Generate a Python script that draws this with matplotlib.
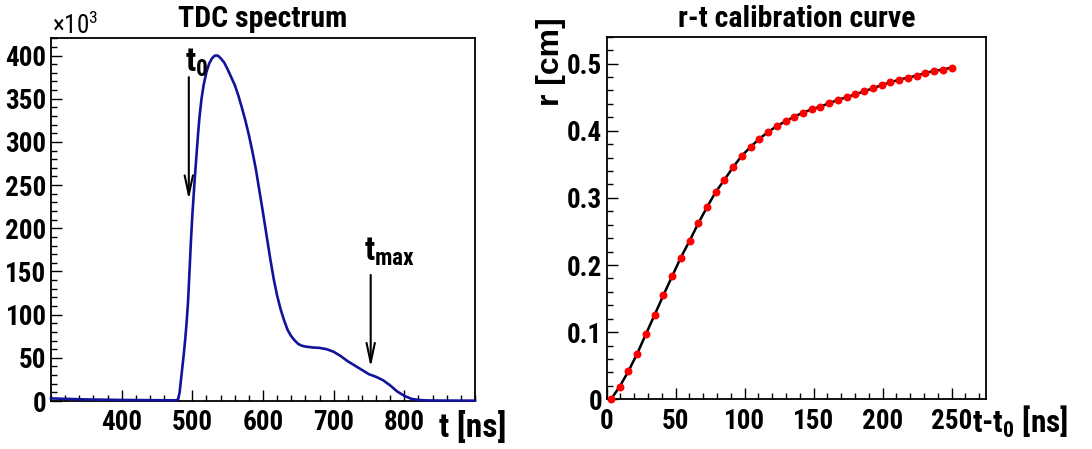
import matplotlib
matplotlib.use("Agg")
import matplotlib.pyplot as plt
from matplotlib.ticker import MultipleLocator, FixedLocator, FixedFormatter

# ---------------- data ----------------
tdc_time_ns = [300, 320, 350, 400, 450, 475, 478, 480, 482, 484, 486, 488, 490, 492, 494,
               496, 498, 500, 502, 504, 506, 508, 510, 513, 516, 520, 524, 528, 532, 536,
               540, 545, 550, 555, 560, 565, 570, 575, 580, 585, 590, 595, 600, 605, 610,
               615, 620, 625, 630, 635, 640, 645, 650, 655, 660, 670, 680, 690, 700, 710,
               720, 730, 740, 750, 760, 770, 780, 790, 800, 810, 820, 830, 850, 900]
tdc_counts_k = [3.0, 2.5, 1.8, 1.2, 0.9, 0.8, 1.0, 2.5, 10, 25, 40, 55, 72, 92, 116,
                150, 185, 215, 240, 264, 286, 308, 328, 350, 366, 381, 391, 397, 400, 400,
                397, 392, 384, 375, 366, 354, 340, 325, 308, 289, 268, 243, 218, 192, 166,
                142, 122, 106, 93, 82, 75, 70, 66, 64, 63, 62, 61.5, 60, 57, 52,
                46, 41, 36, 31, 28, 24, 18, 11, 6, 2.5, 1.2, 0.7, 0.5, 0.4]

rt_time_ns = [3.1, 9.4, 15.8, 22.1, 28.4, 34.8, 41.1, 47.4, 53.7, 60.1,
              66.4, 72.7, 79.1, 85.4, 91.7, 98.1, 104.4, 110.7, 117.0, 123.4,
              129.7, 136.0, 142.4, 148.7, 155.0, 161.4, 167.7, 174.0, 180.3, 186.7,
              193.0, 199.3, 205.7, 212.0, 218.3, 224.7, 231.0, 237.3, 243.6, 250.0]
rt_radius_cm = [0.000, 0.019, 0.042, 0.068, 0.097, 0.126, 0.155, 0.183, 0.211, 0.236,
                0.262, 0.286, 0.309, 0.327, 0.346, 0.363, 0.376, 0.388, 0.398, 0.407,
                0.414, 0.421, 0.427, 0.432, 0.436, 0.441, 0.446, 0.450, 0.454, 0.459,
                0.463, 0.468, 0.472, 0.476, 0.479, 0.482, 0.486, 0.489, 0.491, 0.494]

tdc_xticks = [400, 500, 600, 700, 800]
tdc_xticklabels = ["400", "500", "600", "700", "800"]
tdc_yticks = [0, 50, 100, 150, 200, 250, 300, 350, 400]
tdc_yticklabels = ["0", "50", "100", "150", "200", "250", "300", "350", "400"]
rt_xticks = [0, 50, 100, 150, 200, 250]
rt_xticklabels = ["0", "50", "100", "150", "200", "250"]
rt_yticks = [0, 0.1, 0.2, 0.3, 0.4, 0.5]
rt_yticklabels = ["0", "0.1", "0.2", "0.3", "0.4", "0.5"]

# ---------------- style ----------------
NARROW = ["Roboto Condensed", "Liberation Sans", "DejaVu Sans"]
WIDE = ["Liberation Sans", "DejaVu Sans"]
plt.rcParams["font.family"] = NARROW
plt.rcParams["font.weight"] = "bold"
plt.rcParams["mathtext.fontset"] = "custom"
plt.rcParams["mathtext.rm"] = "Roboto Condensed"
plt.rcParams["mathtext.bf"] = "Roboto Condensed:bold"
plt.rcParams["mathtext.default"] = "regular"

W, H = 1092, 449
fig = plt.figure(figsize=(W / 100, H / 100), dpi=100)


def px_axes(l, t, r, b):
    return [l / W, 1 - b / H, (r - l) / W, (b - t) / H]


ax1 = fig.add_axes(px_axes(51, 38.3, 475, 401))
ax2 = fig.add_axes(px_axes(606.7, 36.7, 986, 399.3))

TICK_FS = 19.5
LABEL_FS = 24
TITLE_FS = 21.5

for ax in (ax1, ax2):
    for sp in ax.spines.values():
        sp.set_linewidth(1.3)
    ax.tick_params(which="both", direction="in", top=False, right=False,
                   width=1.0, labelsize=TICK_FS)
    ax.tick_params(which="major", length=8)
    ax.tick_params(which="minor", length=4.5)
    ax.tick_params(axis="x", pad=6)
    ax.tick_params(axis="y", pad=3.2)

# ---------------- left: TDC spectrum ----------------
ax1.plot(tdc_time_ns, tdc_counts_k, color="#12129a", lw=1.9, clip_on=False, zorder=3)
ax1.set_xlim(300, 900)
ax1.set_ylim(0, 420)
ax1.xaxis.set_major_locator(FixedLocator(tdc_xticks))
ax1.xaxis.set_major_formatter(FixedFormatter(tdc_xticklabels))
ax1.xaxis.set_minor_locator(MultipleLocator(20))
ax1.yaxis.set_major_locator(FixedLocator(tdc_yticks))
ax1.yaxis.set_major_formatter(FixedFormatter(tdc_yticklabels))
ax1.yaxis.set_minor_locator(MultipleLocator(10))

ax1.text(0.5, 1.031, "TDC spectrum", transform=ax1.transAxes, ha="center",
         va="baseline", fontsize=TITLE_FS, fontweight="bold")
ax1.text(0.002, 1.012, "$×10^{3}$", transform=ax1.transAxes, ha="left",
         va="baseline", fontsize=18, fontweight="normal")
ax1.set_xlabel("t [ns]", fontsize=LABEL_FS, fontweight="bold", ha="right", va="baseline")
ax1.xaxis.set_label_coords(1.073, -0.098)

arrow_style = dict(arrowstyle="->,head_length=1.4,head_width=0.3", lw=1.5,
                   color="black", mutation_scale=10, shrinkA=0, shrinkB=0)
ax1.annotate("", xy=(495, 233), xytext=(495, 375), arrowprops=arrow_style)
ax1.text(489.6, 381, "$t_{0}$", fontsize=LABEL_FS, fontweight="bold",
         ha="left", va="baseline")
ax1.annotate("", xy=(752.4, 39), xytext=(752.4, 146), arrowprops=arrow_style)
ax1.text(743, 163, "$t_{max}$", fontsize=LABEL_FS, fontweight="bold",
         ha="left", va="baseline")

# ---------------- right: r-t calibration ----------------
ax2.plot(rt_time_ns, rt_radius_cm, color="black", lw=1.8, zorder=2)
ax2.plot(rt_time_ns, rt_radius_cm, "o", color="#ff0000", mec="#ff0000", ms=4.7,
         zorder=3, clip_on=False)
ax2.set_xlim(0, 275)
ax2.set_ylim(0, 0.54)
ax2.xaxis.set_major_locator(FixedLocator(rt_xticks))
ax2.xaxis.set_major_formatter(FixedFormatter(rt_xticklabels))
ax2.xaxis.set_minor_locator(MultipleLocator(10))
ax2.yaxis.set_major_locator(FixedLocator(rt_yticks))
ax2.yaxis.set_major_formatter(FixedFormatter(rt_yticklabels))
ax2.yaxis.set_minor_locator(MultipleLocator(0.02))

ax2.text(0.5, 1.027, "r-t calibration curve", transform=ax2.transAxes, ha="center",
         va="baseline", fontsize=TITLE_FS, fontweight="bold")
ax2.set_xlabel("t-$t_{0}$ [ns]", fontsize=22.5, fontweight="bold", ha="right",
               va="baseline")
ax2.xaxis.set_label_coords(1.216, -0.094)
ax2.set_ylabel("r [cm]", fontsize=23, fontweight="bold", family=WIDE)
ax2.yaxis.label.set_rotation(90)
ax2.yaxis.label.set_rotation_mode("anchor")
ax2.yaxis.label.set_horizontalalignment("right")
ax2.yaxis.label.set_verticalalignment("center")
ax2.yaxis.set_label_coords(-0.146, 1.054)

fig.savefig("out.png", dpi=100)
